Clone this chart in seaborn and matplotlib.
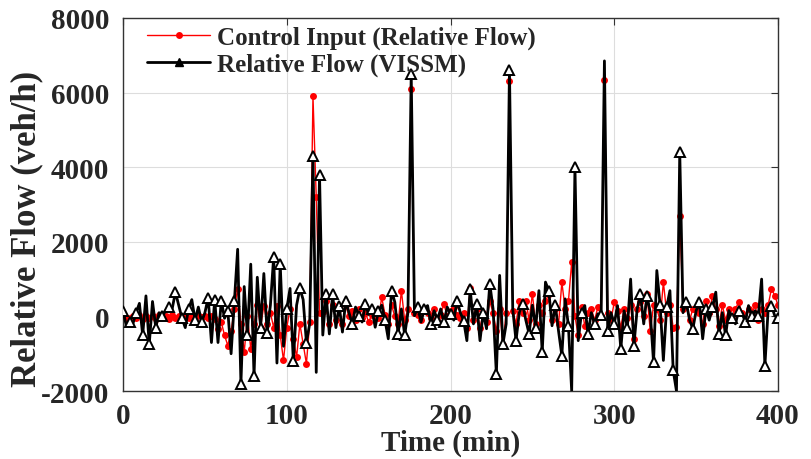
import numpy as np
import pandas as pd
import matplotlib
matplotlib.use("Agg")
import matplotlib.pyplot as plt
from matplotlib.lines import Line2D
import seaborn as sns

# Sampling times (min), one sample every 2 minutes
time_min = list(range(0, 401, 2))

# Control input (relative flow), veh/h
control_input = [
    0, -50, -30, 20, -40, 30, -60, 20, -50, 0,
    -80, 40, -20, 10, -60, 30, -30, 0, -50, 20,
    -40, 10, -60, 30, -20, 0, -40, 20, -80, -335,
    -150, -510, -780, -400, 200, 740, -200, -960, 0, -870,
    -200, 300, -300, 290, -200, 100, -300, 290, -500, -1180,
    -300, 200, -600, -1090, -200, -740, -1270, -160, 5900, 3200,
    100, 110, 400, -200, 300, -100, 200, -200, 300, 0,
    150, -100, 200, -50, 100, -150, 50, 100, -50, 510,
    50, -200, 300, 0, -200, 690, -100, 200, 6100, 100,
    50, -100, 150, 100, -50, 200, -100, 50, 330, 0,
    150, 250, 50, -50, 100, -300, 750, -100, 200, -300,
    100, -150, 400, 100, -400, 200, -760, 100, 6300, 150,
    -200, 420, 100, 420, -100, 600, -200, 300, 100, 400,
    600, -100, 200, -200, 920, 200, 400, 1450, 0, -510,
    250, -250, 100, 200, -100, 250, 0, 6350, 100, -100,
    380, 150, -300, 200, -50, 300, -600, 200, 380, 0,
    600, -400, 300, 200, -100, 920, 100, 300, -300, -290,
    2700, 200, 300, -100, 200, 200, 100, -200, 420, 100,
    560, 200, -250, 300, -100, 200, 0, 200, 380, 100,
    -150, 200, 50, 300, -100, 200, 100, 300, 740, 560,
    300,
]

# Relative flow measured in VISSIM, veh/h
vissim_flow = [
    150, -250, -150, -200, 100, 350, -500, 550, -750, 400,
    -300, 100, 0, 150, 250, 200, 650, 300, -50, -300,
    200, 450, -100, 250, -150, 100, 500, -700, 450, -700,
    420, -50, 150, -1000, 400, 1800, -1800, 800, -500, 1400,
    -1600, 1050, -300, 1150, -450, 300, 1600, -1250, 1400, -800,
    200, 750, -1200, 300, 750, 450, -700, -200, 4300, -1500,
    3800, -500, 600, -470, 600, -300, 290, -420, 420, 100,
    -200, 250, 20, -150, 330, 50, 200, -290, 150, 300,
    -100, -600, 690, 380, -470, 200, -500, 100, 6500, 20,
    250, -150, 200, 290, -200, 150, -100, 200, -150, 250,
    70, -100, 420, 100, -110, -650, 740, -200, 330, -650,
    100, -330, 870, 200, -1540, 1100, -740, -200, 6600, 200,
    -650, 100, 335, -100, -470, 300, -300, 690, -960, 920,
    690, -250, 300, -400, -1050, 470, -250, -2000, 4000, -650,
    100, 290, -470, 100, -200, 70, 50, 6850, -380, 100,
    -200, 290, -870, 150, -300, 1000, -780, 200, 600, -200,
    560, 100, -1230, 1230, 300, -1180, 250, 690, -1450, -2000,
    4400, 100, 380, -100, -330, 150, 380, -600, 200, -100,
    250, 650, -470, 100, -510, 155, -50, -200, 150, 100,
    -150, 290, 0, 150, 20, 1000, -1320, 200, 290, 20,
    -50,
]

series_labels = ["Control Input (Relative Flow)", "Relative Flow (VISSM)"]
x_ticks = [0, 100, 200, 300, 400]
y_ticks = [-2000, 0, 2000, 4000, 6000, 8000]

df = pd.DataFrame({"t": time_min, "ctrl": control_input, "vis": vissim_flow})

sns.set_theme(style="white")
plt.rcParams["font.family"] = ["Liberation Serif", "DejaVu Serif"]
plt.rcParams["font.weight"] = "bold"

fig = plt.figure(figsize=(8.11, 4.60), dpi=100)
ax = fig.add_axes([0.1517, 0.1478, 0.8076, 0.8109])

sns.lineplot(data=df, x="t", y="ctrl", ax=ax, color="red", linewidth=1.0,
             marker="o", markersize=5, markeredgewidth=0,
             markerfacecolor="red", zorder=2)
sns.lineplot(data=df, x="t", y="vis", ax=ax, color="black", linewidth=2.0,
             marker="^", markersize=7, markeredgewidth=1.4,
             markerfacecolor="white", markeredgecolor="black",
             markevery=2, zorder=3)

ax.set_xlim(0, 400)
ax.set_ylim(-2000, 8000)
ax.set_xticks(x_ticks)
ax.set_yticks(y_ticks)
ax.set_xticklabels([str(v) for v in x_ticks], fontsize=21, fontweight="bold")
ax.set_yticklabels([str(v) for v in y_ticks], fontsize=21, fontweight="bold")
ax.set_xlabel("Time (min)", fontsize=21, fontweight="bold", labelpad=0)
ax.set_ylabel("Relative Flow (veh/h)", fontsize=25, fontweight="bold")
ax.yaxis.set_label_coords(-0.121, 0.437)

ax.grid(True, color="#dddddd", linewidth=0.8)
ax.set_axisbelow(True)
ax.tick_params(direction="in", length=5, width=0.8, color="#333333",
               top=True, right=True)
ax.tick_params(axis="x", pad=8)
ax.tick_params(axis="y", pad=10)
for s in ax.spines.values():
    s.set_visible(True)
    s.set_color("#333333")
    s.set_linewidth(1.0)

handles = [
    Line2D([], [], color="red", linewidth=1.0, marker="o", markersize=5,
           markerfacecolor="red", markeredgewidth=0),
    Line2D([], [], color="black", linewidth=2.0, marker="^", markersize=6,
           markerfacecolor="black", markeredgecolor="black"),
]
ax.legend(handles, series_labels, loc="upper left", frameon=False,
          prop={"family": "Liberation Serif", "weight": "bold", "size": 18},
          handlelength=2.5, handletextpad=0.3, labelspacing=0.12,
          borderpad=0, borderaxespad=0, bbox_to_anchor=(0.037, 0.979))

fig.savefig("out.png", dpi=100)
